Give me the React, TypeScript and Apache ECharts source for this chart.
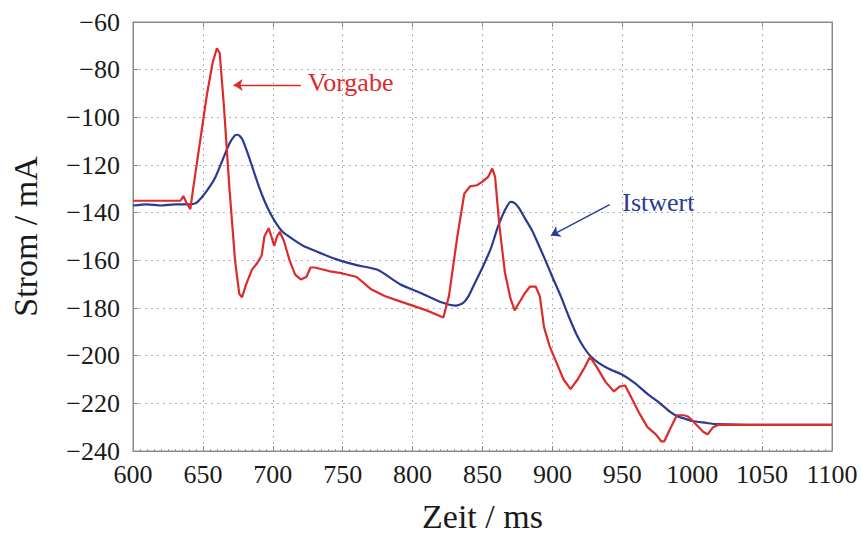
import React, { useEffect, useRef } from "react";
import * as echarts from "echarts";

// Zeitachse (ms) und Stromwerte (mA)
const xTicks = { min: 600, max: 1100, interval: 50 };
const yTicks = { min: -240, max: -60, interval: 20 };

// Sollwert (Vorgabe): [Zeit, Strom]
const vorgabe: [number, number][] = [
  [600, -135], [620, -135], [634, -135], [636, -133], [638, -135.5], [641, -138.5],
  [643, -130], [648, -110], [653, -90], [657, -77], [660, -71], [662, -73],
  [665, -95], [669, -130], [673, -160], [676, -174], [678, -175.5], [681, -170],
  [685, -164], [689, -161], [692, -158], [694, -150], [697, -146.5], [699, -150],
  [701, -154], [703, -150], [705, -148], [708, -152], [712, -160], [716, -166],
  [720, -168], [724, -167], [727, -163], [730, -163], [740, -164.5], [750, -165.5],
  [760, -167], [770, -172], [780, -175], [790, -177], [800, -179], [810, -181],
  [822, -184], [826, -175], [832, -150], [837, -132], [841, -129], [846, -128.5],
  [850, -127], [854, -125], [857, -121.5], [859, -125], [862, -145], [866, -165],
  [870, -176], [873, -181], [876, -178], [880, -174], [884, -171], [888, -171],
  [891, -175], [894, -188], [898, -196], [903, -203], [908, -210], [913, -214],
  [918, -210], [923, -205], [927, -200.5], [932, -205], [938, -211], [944, -215],
  [948, -213], [952, -212.5], [956, -217], [962, -224], [968, -230], [974, -233],
  [978, -236], [980, -236], [984, -231], [989, -225], [994, -225], [997, -225.5],
  [1003, -229], [1008, -232], [1011, -233], [1015, -230], [1019, -229], [1050, -229],
  [1100, -229],
];

// Messwert (Istwert): [Zeit, Strom]
const istwert: [number, number][] = [
  [600, -137], [610, -136.5], [620, -137], [630, -136.5], [640, -136.5], [645, -136],
  [650, -133], [655, -129], [659, -125], [664, -118], [669, -111], [673, -107.5],
  [675, -107.3], [678, -109], [682, -115], [686, -122], [690, -129], [694, -135],
  [698, -140], [703, -145], [707, -148], [714, -151], [722, -154], [730, -156],
  [745, -159.5], [760, -162], [775, -164], [791, -170], [805, -173.5], [820, -177.5],
  [831, -179], [836, -178], [840, -175], [845, -169], [850, -163], [856, -155],
  [861, -146], [866, -139], [870, -135.5], [873, -136], [876, -138], [880, -142],
  [885, -147], [889, -152], [895, -160], [900, -167], [906, -175], [912, -184],
  [918, -192], [923, -197], [927, -200], [933, -203], [941, -205.7], [950, -208],
  [959, -211.5], [968, -216], [977, -220], [984, -223.5], [989, -225.3], [995, -226.5],
  [1000, -227.4], [1010, -228.2], [1016, -228.7], [1050, -229], [1100, -229],
];

// Beschriftungen mit Pfeilen (Datenkoordinaten)
const vorgabeArrow: [number, number][] = [[720, -86.4], [672, -86.4]];
const vorgabeLabel: [number, number] = [725, -85.5];
const istwertArrow: [number, number][] = [[941, -136.6], [899, -149.6]];
const istwertLabel: [number, number] = [950, -135.8];

const RED = "#dc2b2b";
const BLUE = "#2a3a92";
const FONT = "Liberation Serif";
const FRAME = "#8a8a8a";

export default function App() {
  const ref = useRef<HTMLDivElement>(null);

  useEffect(() => {
    if (!ref.current) return;
    const chart = echarts.init(ref.current, undefined, { renderer: "svg" });

    const gridLine = { show: true, lineStyle: { color: "#b0b0b0", type: [2, 4] as any, width: 1 } };
    const tickLabel = { fontFamily: FONT, fontSize: 26, color: "#1a1a1a" };
    const nameStyle = { fontFamily: FONT, fontSize: 34, color: "#1a1a1a" };
    const fmt = (v: number) => (v < 0 ? "\u2212" + Math.abs(v) : String(v));

    const annotation = (
      color: string,
      arrow: [number, number][],
      label: [number, number],
      text: string
    ) => ({
      markLine: {
        silent: true,
        animation: false,
        symbol: ["none", "arrow"],
        symbolSize: 9,
        lineStyle: { color, width: 1.4, type: "solid" },
        label: { show: false },
        data: [[{ coord: arrow[0] }, { coord: arrow[1] }]],
      },
      markPoint: {
        silent: true,
        animation: false,
        symbol: "circle",
        symbolSize: 0,
        label: {
          show: true,
          position: "right",
          distance: 0,
          formatter: text,
          fontFamily: FONT,
          fontSize: 26,
          color,
        },
        data: [{ coord: label }],
      },
    });

    const sideAxis = {
      type: "value",
      axisLine: { show: true, lineStyle: { color: FRAME } },
      axisTick: { show: true, inside: true, length: 5, lineStyle: { color: FRAME } },
      axisLabel: { show: false },
      splitLine: { show: false },
    };

    chart.setOption({
      animation: false,
      backgroundColor: "#ffffff",
      grid: {
        left: 132,
        right: 29,
        top: 22,
        bottom: 86,
        show: true,
        borderColor: FRAME,
        borderWidth: 1,
      },
      xAxis: [
        {
          type: "value",
          min: xTicks.min,
          max: xTicks.max,
          interval: xTicks.interval,
          name: "Zeit / ms",
          nameLocation: "middle",
          nameGap: 48,
          nameTextStyle: nameStyle,
          axisLine: { show: true, lineStyle: { color: FRAME } },
          axisTick: { show: true, inside: true, length: 5, lineStyle: { color: FRAME } },
          minorTick: { show: true, splitNumber: 10, length: 2, lineStyle: { color: "#9a9a9a" } },
          axisLabel: { ...tickLabel, margin: 10, formatter: fmt },
          splitLine: gridLine,
        },
        { ...sideAxis, position: "top", min: xTicks.min, max: xTicks.max, interval: xTicks.interval },
      ],
      yAxis: [
        {
          type: "value",
          min: yTicks.min,
          max: yTicks.max,
          interval: yTicks.interval,
          name: "Strom / mA",
          nameLocation: "middle",
          nameGap: 91,
          nameTextStyle: nameStyle,
          axisLine: { show: true, lineStyle: { color: FRAME } },
          axisTick: { show: true, inside: true, length: 5, lineStyle: { color: FRAME } },
          axisLabel: { ...tickLabel, margin: 13, formatter: fmt },
          splitLine: gridLine,
        },
        { ...sideAxis, position: "right", min: yTicks.min, max: yTicks.max, interval: yTicks.interval },
      ],
      series: [
        {
          name: "Istwert",
          type: "line",
          data: istwert,
          showSymbol: false,
          smooth: 0.2,
          lineStyle: { color: BLUE, width: 2.2 },
          z: 3,
          ...annotation(BLUE, istwertArrow, istwertLabel, "Istwert"),
        },
        {
          name: "Vorgabe",
          type: "line",
          data: vorgabe,
          showSymbol: false,
          lineStyle: { color: RED, width: 2.2 },
          z: 4,
          ...annotation(RED, vorgabeArrow, vorgabeLabel, "Vorgabe"),
        },
      ],
    });

    return () => chart.dispose();
  }, []);

  return (
    <div
      ref={ref}
      style={{ position: "absolute", left: 0, top: 0, width: 861, height: 538 }}
    />
  );
}
